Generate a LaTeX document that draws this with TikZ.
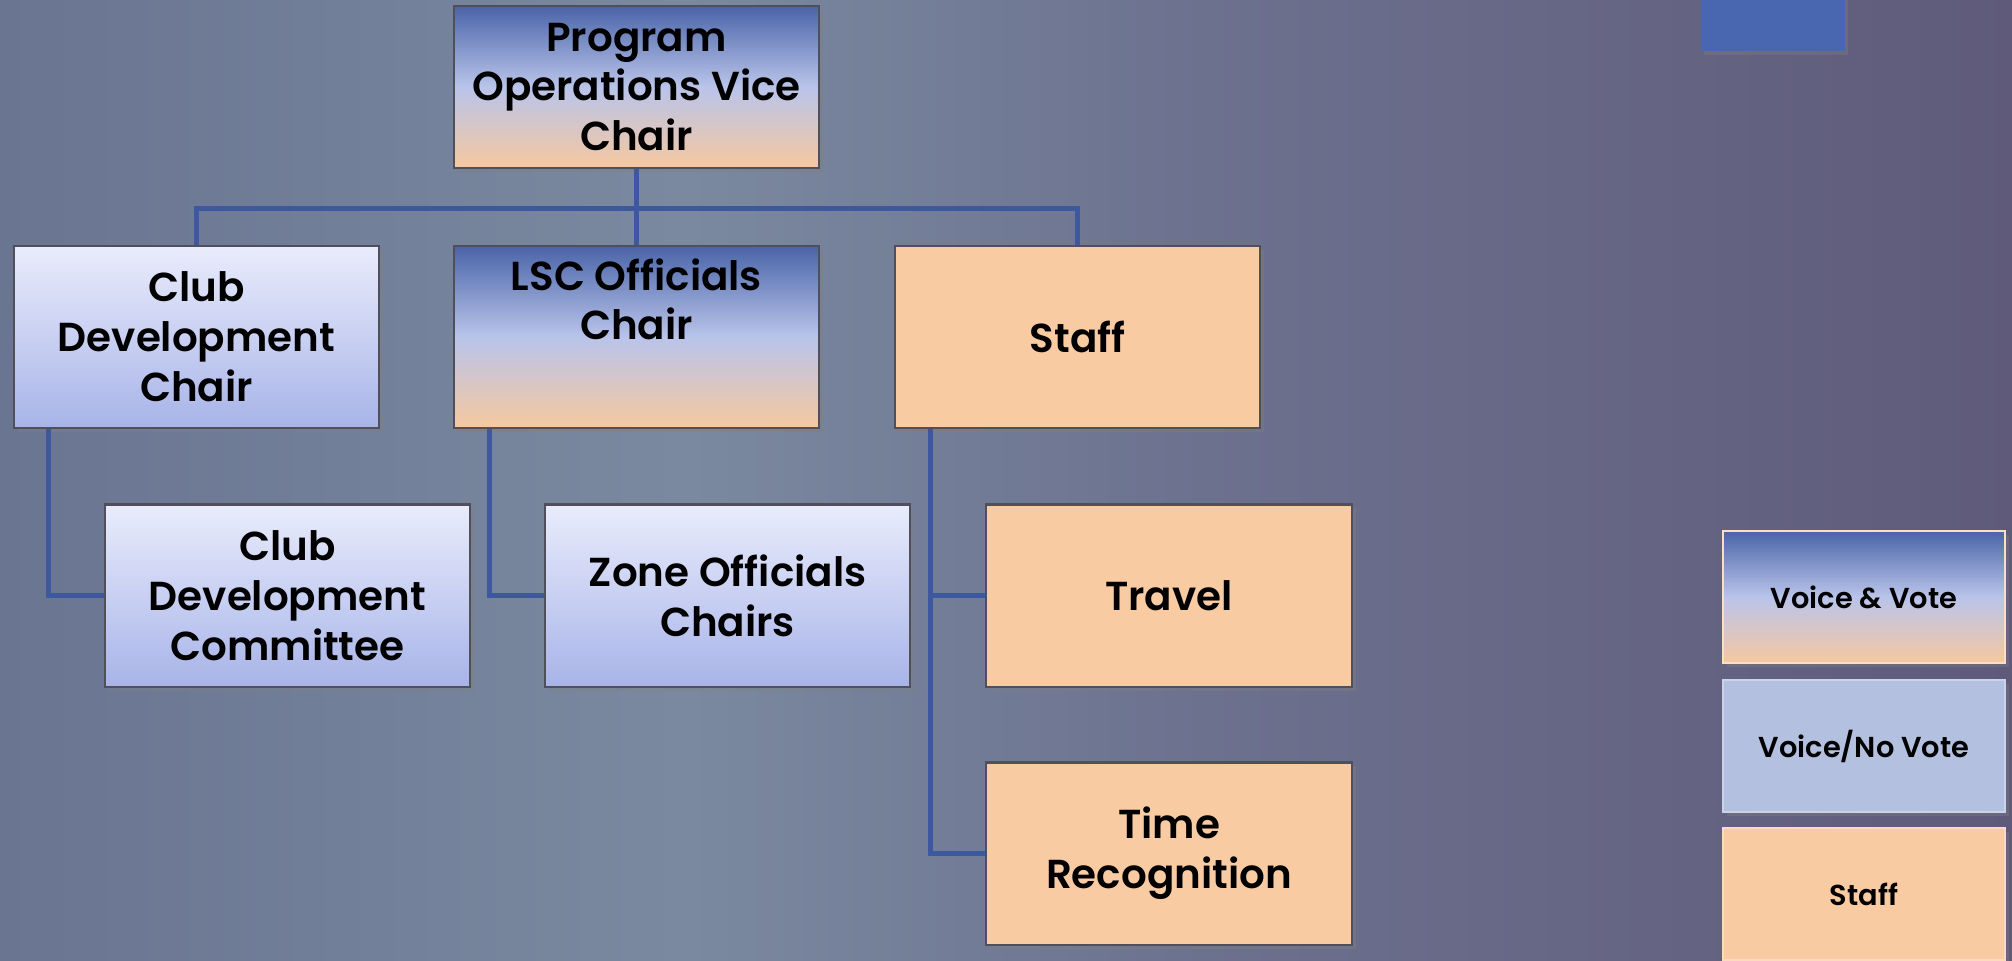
\documentclass[tikz,border=0pt]{standalone}
\usepackage{fontspec}
\setmainfont{Poppins}[BoldFont={Poppins SemiBold}]
\usetikzlibrary{calc}
\usetikzlibrary{shadows}
\definecolor{bgA}{RGB}{106,117,145}
\definecolor{bgB}{RGB}{122,137,160}
\definecolor{bgC}{RGB}{108,113,142}
\definecolor{bgD}{RGB}{95,90,122}
\definecolor{link}{RGB}{62,88,160}
\definecolor{voteA}{RGB}{74,100,168}
\definecolor{voteB}{RGB}{185,196,234}
\definecolor{voteC}{RGB}{246,200,160}
\definecolor{pale}{RGB}{233,236,252}
\definecolor{paleB}{RGB}{168,180,232}
\definecolor{peach}{RGB}{249,203,162}
\definecolor{grey}{RGB}{180,192,224}
\definecolor{corner}{RGB}{72,103,176}
\definecolor{boxline}{RGB}{80,80,92}
\pgfdeclarehorizontalshading{slide}{100bp}{color(0bp)=(bgA); color(25bp)=(bgA);
  color(42bp)=(bgB); color(55bp)=(bgC); color(75bp)=(bgD); color(100bp)=(bgD)}
\begin{document}
\begin{tikzpicture}[x=0.01cm,y=-0.01cm,
    box/.style={rectangle, minimum width=3.65cm, minimum height=1.82cm,
      inner sep=0pt, align=center, draw=boxline, line width=0.6pt,
      font=\bfseries\fontsize{11.5}{14.2}\selectfont,
      drop shadow={shadow xshift=0.04cm, shadow yshift=-0.04cm, opacity=0.35}},
    vote/.style={box, top color=voteA, bottom color=voteC, middle color=voteB},
    novote/.style={box, top color=pale, bottom color=paleB},
    staff/.style={box, fill=peach},
    key/.style={minimum width=2.82cm, minimum height=1.32cm,
      font=\bfseries\fontsize{8.2}{10}\selectfont},
    conn/.style={draw=link, line width=0.05cm}]
  \useasboundingbox (0,0) rectangle (2012,960);
  \shade[shading=slide] (0,0) rectangle (2012,960);

  % chart
  \node[vote, minimum height=1.62cm] (pov) at (636.5,87) {Program\\Operations Vice\\Chair};
  \node[novote] (cdc) at (196.5,337) {Club\\Development\\Chair};
  \node[vote, label={[anchor=north, yshift=-0.01cm, align=center,
      font=\bfseries\fontsize{11.5}{14.2}\selectfont]north:{LSC Officials\\Chair}}] (lsc) at (636.5,337) {};
  \node[staff] (staff) at (1077.5,337) {Staff};
  \node[novote] (cdcom) at (287.5,595.5) {Club\\Development\\Committee};
  \node[novote] (zone) at (727.5,595.5) {Zone Officials\\Chairs};
  \node[staff] (travel) at (1169,595.5) {Travel};
  \node[staff] (timerec) at (1169,853.5) {Time\\Recognition};

  \draw[conn] (pov.south) -- ++(0,39) -| (cdc.north);
  \draw[conn] (pov.south) -- (lsc.north);
  \draw[conn] (pov.south) -- ++(0,39) -| (staff.north);
  \draw[conn] ($(cdc.south west)+(36,0)$) |- (cdcom.west);
  \draw[conn] ($(lsc.south west)+(37,0)$) |- (zone.west);
  \draw[conn] ($(staff.south west)+(37,0)$) |- (travel.west);
  \draw[conn] ($(staff.south west)+(37,0)$) |- (timerec.west);

  % key
  \node[vote, key, draw=voteC!60!white] (kvote) at (1864,597) {Voice \& Vote};
  \node[box, key, fill=grey, draw=grey!70!white] (knovote) at (1864,746) {Voice/No Vote};
  \node[staff, key, draw=peach!70!white] (kstaff) at (1864,894) {Staff};
  \fill[corner, drop shadow={shadow xshift=0.03cm, shadow yshift=-0.04cm, opacity=0.35}]
    (1701,-12) rectangle (1845,51);
\end{tikzpicture}
\end{document}
